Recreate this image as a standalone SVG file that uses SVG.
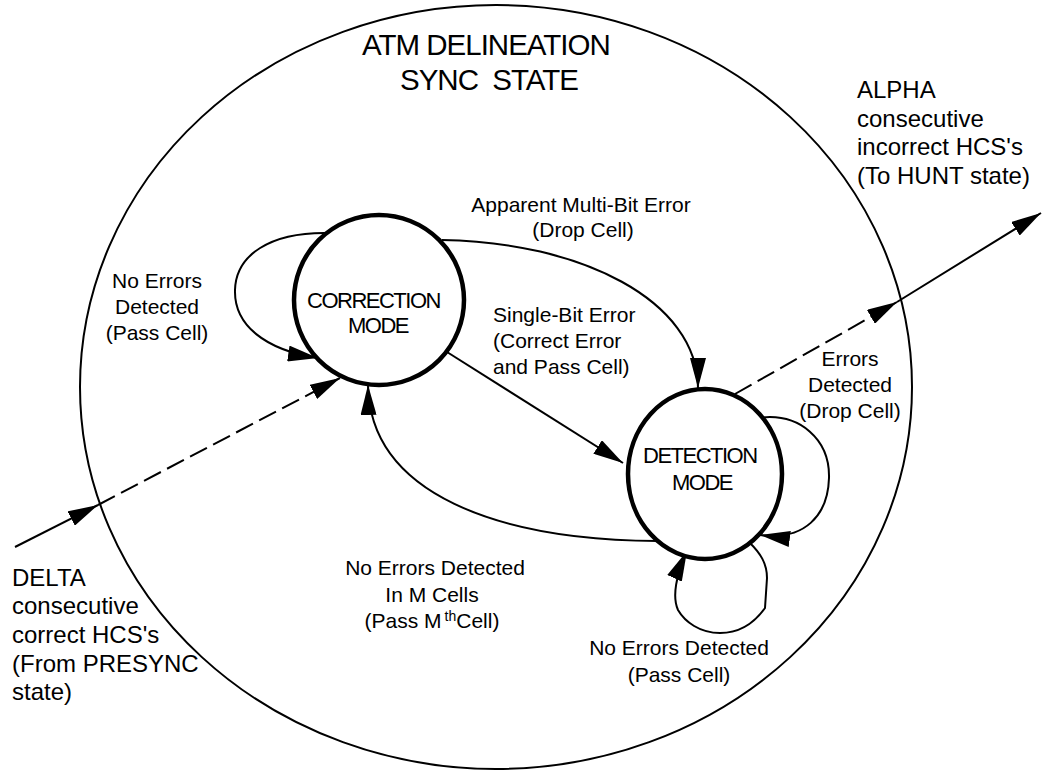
<svg xmlns="http://www.w3.org/2000/svg" width="1043" height="770" viewBox="0 0 1043 770">
<style>
text{font-family:"Liberation Sans",Arial,sans-serif;fill:#000}
.lbl{font-size:21px}
.big{font-size:24px}
.title{font-size:29.5px;letter-spacing:-1px}
.node{fill:#fff;stroke:#000;stroke-width:4.5}
.nodetxt{font-size:22px;letter-spacing:-1.5px}
.c{fill:none;stroke:#000;stroke-width:2}
.d{stroke-dasharray:19 7}
</style>
<defs>
<marker id="arr" markerUnits="userSpaceOnUse" viewBox="0 0 30 16" markerWidth="30" markerHeight="16" refX="30" refY="8" orient="auto">
<path d="M0,0 L30,8 L0,16 Z" fill="#000"/>
</marker>
</defs>
<rect width="1043" height="770" fill="#fff"/>
<g id="sync-state">
<ellipse cx="496" cy="387" rx="416" ry="382" fill="none" stroke="#000" stroke-width="2"/>
<text class="title" x="362" y="55">ATM DELINEATION</text>
<text class="title" x="400" y="90" xml:space="preserve">SYNC  STATE</text>
</g>
<g id="connectors">
<path class="c" d="M15 547 L98 505" marker-end="url(#arr)"/>
<path class="c d" d="M98 505 L340 378" marker-end="url(#arr)"/>
<path class="c" d="M328 233 C270 232 236 255 235 290 C234 325 265 350 318 358" marker-end="url(#arr)"/>
<path class="c" d="M442 240 C580 242 698 300 698 388" marker-end="url(#arr)"/>
<path class="c" d="M447 352 L623 463" marker-end="url(#arr)"/>
<path class="c" d="M657 541 C500 540 370 495 368 385" marker-end="url(#arr)"/>
<path class="c" d="M758 418 C800 412 830 440 829 478 C828 515 805 541 760 535" marker-end="url(#arr)"/>
<path class="c" d="M750 543 C760 553 767 563 767 578 L765 608 C755 622 740 633 720 633 C700 633 685 622 678 610 C672 597 676 575 687 551" marker-end="url(#arr)"/>
<path class="c d" d="M735 394 L897 302" marker-end="url(#arr)"/>
<path class="c" d="M897 302 L1041 213" marker-end="url(#arr)"/>
</g>
<g id="correction-mode">
<circle class="node" cx="379" cy="300" r="85"/>
<text class="nodetxt" x="307" y="308">CORRECTION</text>
<text class="nodetxt" x="348" y="333">MODE</text>
</g>
<g id="detection-mode">
<ellipse class="node" cx="705" cy="474" rx="77" ry="85"/>
<text class="nodetxt" x="643" y="463">DETECTION</text>
<text class="nodetxt" x="672" y="490">MODE</text>
</g>
<g id="labels">
<text class="lbl" text-anchor="middle"><tspan x="157" y="288">No Errors</tspan><tspan x="157" y="314">Detected</tspan><tspan x="157" y="340">(Pass Cell)</tspan></text>
<text class="lbl" text-anchor="middle"><tspan x="581" y="212">Apparent Multi-Bit Error</tspan><tspan x="583" y="237">(Drop Cell)</tspan></text>
<text class="lbl"><tspan x="493" y="322">Single-Bit Error</tspan><tspan x="493" y="348">(Correct Error</tspan><tspan x="493" y="374">and Pass Cell)</tspan></text>
<text class="lbl" text-anchor="middle"><tspan x="850" y="366">Errors</tspan><tspan x="850" y="392">Detected</tspan><tspan x="850" y="418">(Drop Cell)</tspan></text>
<text class="lbl" text-anchor="middle"><tspan x="435" y="575">No Errors Detected</tspan><tspan x="432" y="602">In M Cells</tspan></text>
<text class="lbl" text-anchor="middle" x="432" y="628">(Pass M<tspan font-size="14" dx="3" dy="-7">th</tspan><tspan dy="7">Cell)</tspan></text>
<text class="lbl" text-anchor="middle"><tspan x="679" y="655">No Errors Detected</tspan><tspan x="679" y="682">(Pass Cell)</tspan></text>
<text class="big"><tspan x="857" y="98">ALPHA</tspan><tspan x="857" y="127">consecutive</tspan><tspan x="857" y="155">incorrect HCS's</tspan><tspan x="857" y="184">(To HUNT state)</tspan></text>
<text class="big"><tspan x="12" y="586">DELTA</tspan><tspan x="12" y="614">consecutive</tspan><tspan x="12" y="643">correct HCS's</tspan><tspan x="12" y="672">(From PRESYNC</tspan><tspan x="12" y="700">state)</tspan></text>
</g>
</svg>
